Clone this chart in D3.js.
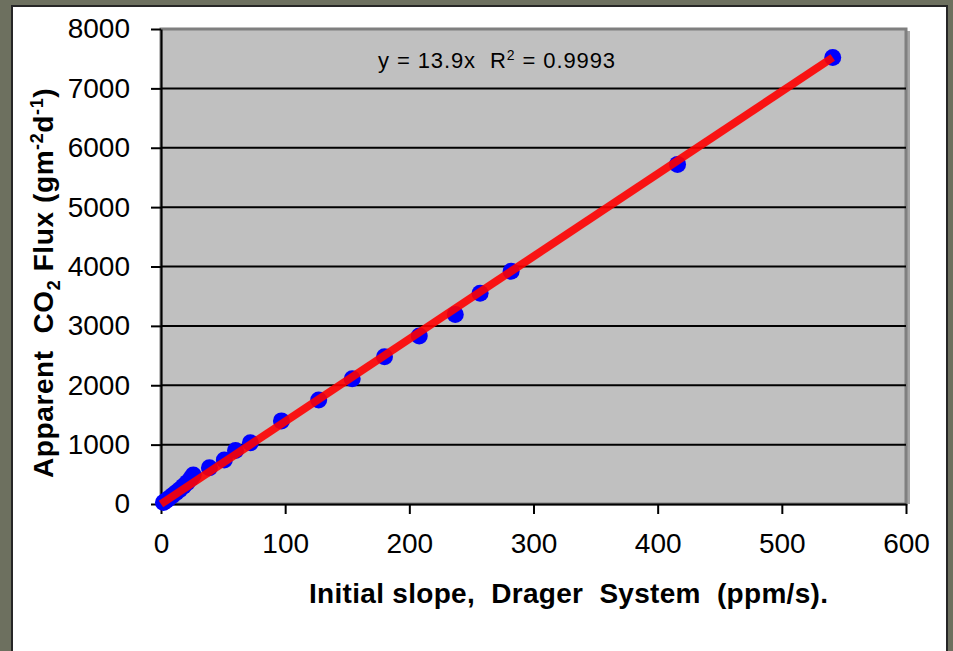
<!DOCTYPE html>
<html lang="en">
    <head>
        <meta charset="UTF-8">
        <script src="https://unpkg.com/d3@7/dist/d3.min.js"></script>
        <title>CO2 flux vs Drager slope</title>
        <style>
            body { margin: 0; background: #6d705f; }
            text { font-family: "Liberation Sans", Arial, sans-serif; }
        </style>
    </head>
    <body>
        <script type="text/javascript">
            // Data
            var slope = [2, 4, 6, 9, 12, 15, 18, 21, 24, 26, 39, 51, 60, 72, 97, 127, 154, 180, 208, 237, 257, 282, 416, 541];
            var flux = [25, 55, 90, 140, 190, 240, 300, 360, 430, 490, 610, 740, 900, 1030, 1400, 1750, 2110, 2480, 2830, 3190, 3550, 3920, 5720, 7520];
            var xTicks = [0, 100, 200, 300, 400, 500, 600];
            var yTicks = [0, 1000, 2000, 3000, 4000, 5000, 6000, 7000, 8000];
            var fitSlope = 13.9;
            var fitRange = [0, 541];

            var W = 953, H = 651;
            var plot = { left: 161, right: 906, top: 29, bottom: 504 };

            var svg = d3.select("body")
                .append("svg")
                .attr("width", W)
                .attr("height", H)
                .style("display", "block");

            // slide background and white panel
            svg.append("rect")
                .attr("width", W).attr("height", H)
                .attr("fill", "#6d705f");
            svg.append("rect")
                .attr("x", 12).attr("y", 6)
                .attr("width", 935).attr("height", H)
                .attr("fill", "#ffffff")
                .attr("stroke", "#262626")
                .attr("stroke-width", 2);

            var x = d3.scaleLinear().domain([0, 600]).range([plot.left, plot.right]);
            var y = d3.scaleLinear().domain([0, 8000]).range([plot.bottom, plot.top]);

            // plot area with a little shadow on the right
            svg.append("rect")
                .attr("x", plot.right).attr("y", plot.top + 2)
                .attr("width", 4).attr("height", plot.bottom - plot.top - 2)
                .attr("fill", "#a6a6a6");
            svg.append("rect")
                .attr("x", plot.left).attr("y", plot.top)
                .attr("width", plot.right - plot.left)
                .attr("height", plot.bottom - plot.top)
                .attr("fill", "#c0c0c0")
                .attr("stroke", "#7f7f7f")
                .attr("stroke-width", 3);

            // horizontal gridlines
            svg.append("g")
                .selectAll("line")
                .data(yTicks.filter(function(d) { return d > 0 && d < 8000; }))
                .enter()
                .append("line")
                .attr("x1", plot.left).attr("x2", plot.right)
                .attr("y1", function(d) { return y(d); })
                .attr("y2", function(d) { return y(d); })
                .attr("stroke", "#000")
                .attr("stroke-width", 2);

            // axes
            var yAxis = svg.append("g")
                .attr("transform", "translate(" + plot.left + ",0)")
                .call(d3.axisLeft(y).tickValues(yTicks).tickFormat(d3.format("d"))
                    .tickSize(10).tickSizeOuter(0).tickPadding(21));
            var xAxis = svg.append("g")
                .attr("transform", "translate(0," + plot.bottom + ")")
                .call(d3.axisBottom(x).tickValues(xTicks).tickFormat(d3.format("d"))
                    .tickSize(10).tickSizeOuter(0).tickPadding(19));

            [xAxis, yAxis].forEach(function(g) {
                g.select(".domain").attr("stroke", "#000").attr("stroke-width", 2);
                g.selectAll(".tick line").attr("stroke", "#000").attr("stroke-width", 2);
                g.selectAll(".tick text")
                    .attr("fill", "#000")
                    .style("font-size", "28px")
                    .style("font-family", "'Liberation Sans', Arial, sans-serif");
            });

            // points
            var pts = slope.map(function(d, i) { return { x: d, y: flux[i] }; });
            svg.append("g")
                .selectAll("circle")
                .data(pts)
                .enter()
                .append("circle")
                .attr("cx", function(d) { return x(d.x); })
                .attr("cy", function(d) { return y(d.y); })
                .attr("r", 8.5)
                .attr("fill", "#0000ff");

            // linear fit through the origin
            svg.append("line")
                .attr("x1", x(fitRange[0])).attr("y1", y(fitRange[0] * fitSlope))
                .attr("x2", x(fitRange[1])).attr("y2", y(fitRange[1] * fitSlope))
                .attr("stroke", "#ff0000")
                .attr("stroke-opacity", 0.9)
                .attr("stroke-width", 8);

            // equation
            var eq = svg.append("text")
                .attr("x", 378).attr("y", 68)
                .attr("xml:space", "preserve")
                .style("font-size", "22px")
                .style("letter-spacing", "0.9px")
                .attr("fill", "#000");
            eq.append("tspan").text("y = 13.9x  R");
            eq.append("tspan").attr("dy", -8).style("font-size", "14px").text("2");
            eq.append("tspan").attr("dy", 8).text(" = 0.9993");

            // axis titles
            svg.append("text")
                .attr("x", 309).attr("y", 603)
                .attr("xml:space", "preserve")
                .style("font-size", "28px")
                .style("font-weight", "bold")
                .style("letter-spacing", "0.3px")
                .text("Initial slope,  Drager  System  (ppm/s).");

            var yt = svg.append("text")
                .attr("transform", "translate(53,478) rotate(-90)")
                .attr("xml:space", "preserve")
                .style("font-size", "28px")
                .style("font-weight", "bold")
                .style("letter-spacing", "0.6px");
            yt.append("tspan").text("Apparent  CO");
            yt.append("tspan").attr("dy", 7).style("font-size", "18px").text("2");
            yt.append("tspan").attr("dy", -7).text(" Flux (gm");
            yt.append("tspan").attr("dy", -10).style("font-size", "18px").text("-2");
            yt.append("tspan").attr("dy", 10).text("d");
            yt.append("tspan").attr("dy", -10).style("font-size", "18px").text("-1");
            yt.append("tspan").attr("dy", 10).text(")");
        </script>
    </body>
</html>
